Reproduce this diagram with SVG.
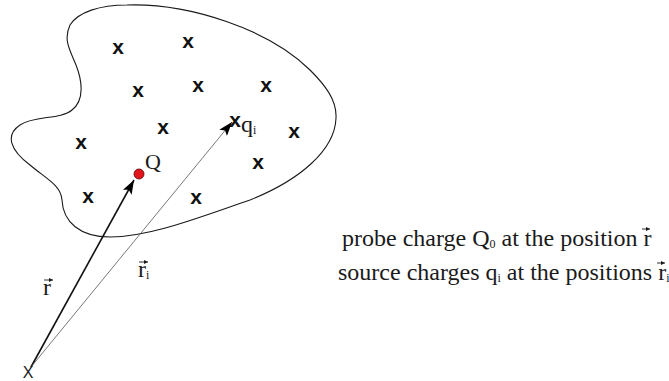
<svg xmlns="http://www.w3.org/2000/svg" width="669" height="381" viewBox="0 0 669 381">
<defs>
<style>
.cross{font-family:"Liberation Sans",Arial,sans-serif;font-weight:bold;font-size:21px;fill:#111;text-anchor:middle}
.lbl{font-family:"Liberation Serif","Times New Roman",serif;fill:#1a1a1a}
.vec{stroke:#1a1a1a;stroke-width:0.9;fill:none}
</style>
<marker id="ah" markerUnits="userSpaceOnUse" viewBox="0 0 14 10" refX="14" refY="5" markerWidth="14" markerHeight="10" orient="auto">
<path d="M0,0 L14,5 L0,10 L3,5 Z" fill="#000"/>
</marker>
<marker id="va" markerUnits="userSpaceOnUse" viewBox="0 0 4 4" refX="4" refY="2" markerWidth="4" markerHeight="4" orient="auto">
<path d="M0,0 L4,2 L0,4 Z" fill="#1a1a1a"/>
</marker>
</defs>
<rect width="669" height="381" fill="#fff"/>
<g id="region">
<path d="M127,5 C190,3 270,30 310,70 C325,85 337,100 336,118 C335,150 300,180 250,200 C200,217 150,237 110,237 C80,237 63,222 62,200 C61,185 45,178 30,165 C10,150 5,135 20,125 C35,115 60,120 72,110 C85,100 82,80 76,65 C70,50 63,40 70,25 C78,12 100,5 127,5 Z" fill="none" stroke="#1a1a1a" stroke-width="1.1"/>
</g>
<g id="charges">
<text class="cross" x="118" y="54">x</text>
<text class="cross" x="188" y="48">x</text>
<text class="cross" x="138" y="97">x</text>
<text class="cross" x="198" y="92">x</text>
<text class="cross" x="266" y="92">x</text>
<text class="cross" x="163" y="134">x</text>
<text class="cross" x="235" y="127">x</text>
<text class="cross" x="294" y="138">x</text>
<text class="cross" x="81" y="149">x</text>
<text class="cross" x="258" y="169">x</text>
<text class="cross" x="88" y="203">x</text>
<text class="cross" x="196" y="204">x</text>
</g>
<g id="connectors">
<line x1="31" y1="367" x2="134" y2="180" stroke="#111" stroke-width="1.6" marker-end="url(#ah)"/>
<line x1="31" y1="367" x2="232" y2="122" stroke="#555" stroke-width="0.8" marker-end="url(#ah)"/>
</g>
<g id="probe">
<circle cx="139" cy="174" r="5" fill="#e3141b" stroke="#5a0000" stroke-width="0.8"/>
<text class="lbl" x="145" y="169" font-size="22">Q</text>
</g>
<g id="qi-label">
<text class="lbl" x="241" y="132" font-size="24">q<tspan font-size="12" dy="2">i</tspan></text>
</g>
<g id="origin">
<text x="28" y="378" font-family="Liberation Sans,Arial,sans-serif" font-size="16" text-anchor="middle" fill="#1a1a1a">X</text>
</g>
<g id="r-label">
<text class="lbl" x="43" y="295" font-size="24">r</text>
<line class="vec" x1="44" y1="280" x2="53" y2="280" marker-end="url(#va)"/>
</g>
<g id="ri-label">
<text class="lbl" x="138" y="277" font-size="24">r<tspan font-size="12" dy="2">i</tspan></text>
<line class="vec" x1="139" y1="262" x2="148" y2="262" marker-end="url(#va)"/>
</g>
<g id="legend">
<text class="lbl" x="342" y="246" font-size="24">probe charge Q<tspan font-size="12" dy="2">0</tspan><tspan dy="-2"> at the position r</tspan></text>
<line class="vec" x1="642" y1="229" x2="650" y2="229" marker-end="url(#va)"/>
<text class="lbl" x="338" y="280" font-size="24">source charges q<tspan font-size="12" dy="2">i</tspan><tspan dy="-2"> at the positions r</tspan><tspan font-size="12" dy="2">i</tspan></text>
<line class="vec" x1="657" y1="263" x2="665" y2="263" marker-end="url(#va)"/>
</g>
</svg>
